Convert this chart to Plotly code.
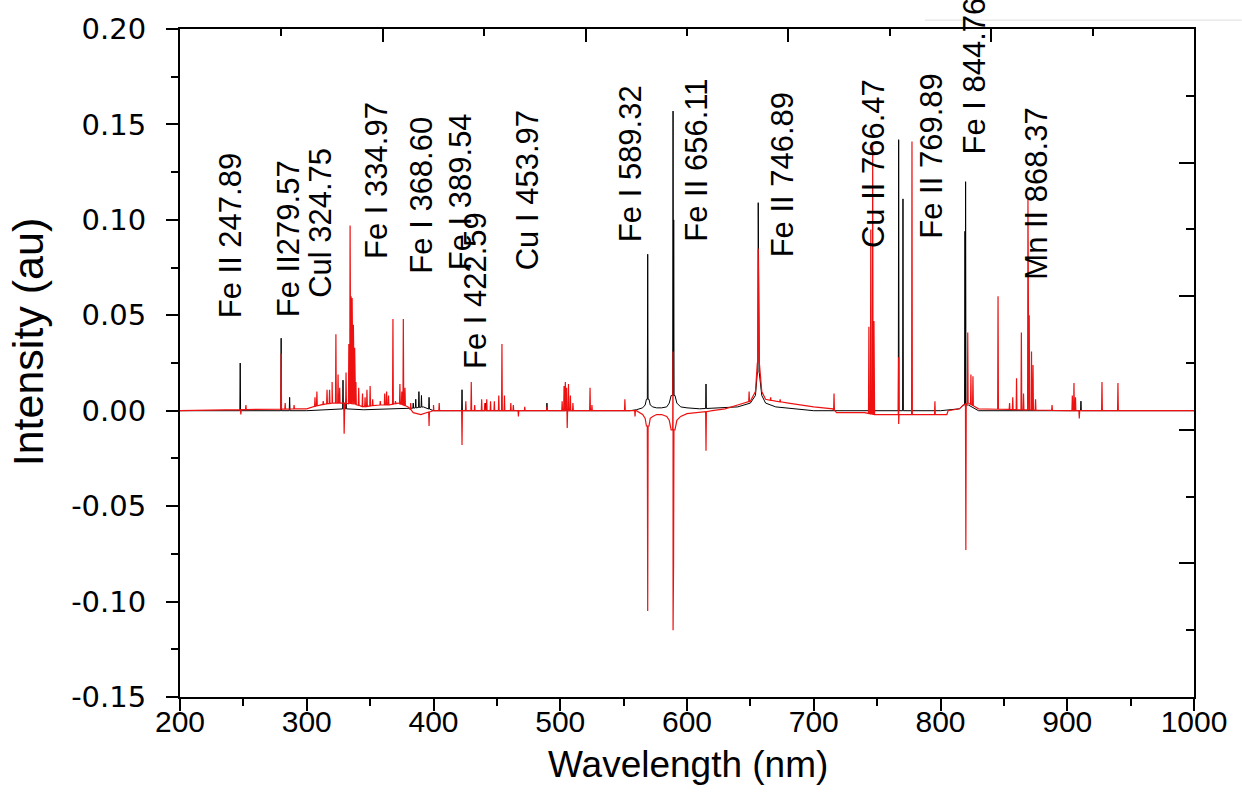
import numpy as np
import plotly.graph_objects as go

# ---------------- data ----------------
# Black spectrum: sharp emission lines (wavelength nm, intensity au)
black_peak_wl = [247.5, 279.8, 286.5, 328.6, 331.0, 384.0, 386.0, 388.5, 390.5, 396.5,
                 422.5, 441.0, 489.5, 569.0, 589.0, 589.5, 615.0, 656.2, 767.0, 770.4,
                 819.3, 819.8, 910.8]
black_peak_int = [0.025, 0.038, 0.007, 0.016, 0.006, 0.004, 0.006, 0.010, 0.008, 0.007,
                  0.011, 0.004, 0.004, 0.082, 0.157, 0.100, 0.014, 0.109, 0.142, 0.111,
                  0.094, 0.120, 0.005]
# Black spectrum: continuum / line wings
black_cont_wl = [200, 240, 300, 318, 330, 345, 380, 392, 400, 500, 555, 560, 565, 567, 568,
                 570, 571, 573, 576, 580, 584, 586, 587.5, 590.5, 592, 595, 600, 610, 640,
                 650, 654, 655.5, 657, 659, 662, 670, 700, 800, 815, 818, 822, 830, 900, 1000]
black_cont_int = [0.0, 0.0, 0.0, 0.0005, 0.001, 0.0005, 0.001, 0.002, 0.0, 0.0, 0.0, 0.0005,
                  0.0015, 0.003, 0.006, 0.006, 0.003, 0.002, 0.0015, 0.0015, 0.002, 0.004,
                  0.008, 0.008, 0.004, 0.002, 0.0015, 0.001, 0.002, 0.004, 0.008, 0.02,
                  0.02, 0.008, 0.004, 0.002, 0.0, 0.0, 0.001, 0.003, 0.003, 0.0, 0.0, 0.0]

# Red spectrum: sharp lines (positive and negative)
red_peak_wl = [248.0, 252.0, 262.0, 279.8, 283.0, 290.0, 306.5, 308.0, 313.0, 316.0,
               318.0, 320.0, 323.0, 324.7, 326.0, 329.5, 331.0, 333.2, 334.2, 335.0,
               335.8, 336.8, 337.8, 338.8, 341.0, 344.0, 346.0, 347.5, 350.0, 352.0,
               358.0, 361.5, 363.0, 364.5, 368.0, 370.0, 373.5, 375.0, 376.2, 377.5,
               382.0, 396.5, 400.0, 404.5, 422.5, 425.5, 429.8, 432.5, 438.0, 440.5,
               442.0, 445.0, 448.0, 451.5, 454.0, 456.0, 461.0, 463.0, 467.0, 472.0,
               489.5, 501.5, 503.0, 504.0, 505.0, 505.5, 506.5, 508.0, 510.0, 523.5,
               525.0, 551.0, 559.0, 569.0, 589.0, 589.0, 589.4, 615.0, 649.0, 656.2,
               656.8, 666.0, 673.5, 716.0, 743.5, 745.0, 746.5, 747.5, 767.0, 767.0,
               777.5, 795.6, 820.0, 821.5, 824.0, 825.6, 845.4, 854.5, 857.0, 860.0,
               863.8, 865.5, 869.0, 870.0, 871.8, 873.0, 875.0, 888.0, 904.0, 905.3,
               906.5, 909.5, 927.4, 940.0]
red_peak_int = [-0.002, 0.003, 0.001, 0.030, 0.004, 0.003, 0.007, 0.010, 0.005, 0.011,
                0.011, 0.015, 0.040, 0.019, 0.012, -0.012, 0.020, 0.035, 0.097, 0.060,
                0.059, 0.045, 0.033, 0.015, 0.012, 0.009, 0.007, 0.011, 0.013, 0.006,
                0.005, 0.009, 0.010, 0.008, 0.048, 0.005, 0.014, 0.010, 0.048, 0.012,
                0.004, -0.008, 0.003, 0.004, -0.018, 0.005, 0.015, 0.003, 0.006, 0.004,
                0.006, 0.005, 0.005, 0.008, 0.035, 0.008, 0.004, 0.003, -0.003, 0.002,
                0.002, 0.005, 0.013, 0.015, 0.012, -0.009, 0.014, 0.008, 0.004, 0.012,
                0.003, 0.006, -0.003, -0.105, 0.031, -0.115, -0.080, -0.021, 0.010, 0.085,
                0.060, 0.007, 0.006, 0.009, 0.044, 0.095, 0.140, 0.047, 0.028, -0.007,
                0.141, 0.005, -0.073, 0.041, 0.019, 0.018, 0.060, 0.004, 0.007, 0.017,
                0.041, 0.009, 0.112, 0.050, 0.031, 0.024, 0.006, 0.003, 0.008, 0.0145,
                0.007, -0.004, 0.015, 0.0145]
# Red spectrum: continuum / line wings
red_cont_wl = [200, 240, 300, 305, 310, 320, 330, 340, 345, 355, 365, 372, 380, 384, 390,
               395, 400, 500, 555, 560, 565, 567, 568, 570, 571, 573, 576, 580, 584, 586,
               587.5, 590.5, 592, 595, 600, 610, 620, 630, 640, 645, 650, 654, 655.5, 657,
               659, 662, 670, 680, 700, 715, 718, 740, 748, 805, 806, 815, 818, 822, 830,
               900, 1000]
red_cont_int = [0.0, 0.0005, 0.001, 0.002, 0.003, 0.004, 0.004, 0.003, 0.002, 0.003, 0.003,
                0.004, 0.002, -0.001, -0.002, -0.001, 0.0, 0.0, 0.0, 0.0, -0.002, -0.004,
                -0.008, -0.008, -0.004, -0.003, -0.002, -0.002, -0.003, -0.005, -0.010,
                -0.010, -0.005, -0.003, -0.0015, -0.001, 0.0, 0.001, 0.003, 0.004, 0.005,
                0.010, 0.025, 0.025, 0.010, 0.006, 0.005, 0.004, 0.002, 0.001, -0.001,
                -0.001, -0.002, -0.002, 0.0, 0.001, 0.003, 0.004, 0.001, 0.0, 0.0]

# Line identifications and their positions (wavelength nm, intensity au)
label_text = ["Fe II 247.89", "Fe II279.57", "Cul 324.75", "Fe I 334.97", "Fe I 368.60",
              "Fe I 389.54", "Fe I 422.59", "Cu I 453.97", "Fe I 589.32", "Fe II 656.11",
              "Fe II 746.89", "Cu II 766.47", "Fe II 769.89", "Fe I 844.76", "Mn II 868.37"]
label_x = [239.4, 285.2, 311.2, 355.4, 390.9, 420.9, 432.7, 473.8, 555.0, 607.9,
           674.9, 746.7, 793.3, 827.2, 876.1]
label_y = [0.0919, 0.0904, 0.0984, 0.1209, 0.1132, 0.1150, 0.0632, 0.1155, 0.1297, 0.1310,
           0.1238, 0.1297, 0.1331, 0.1756, 0.1137]

y_tick_vals = [-0.15, -0.10, -0.05, 0.00, 0.05, 0.10, 0.15, 0.20]
y_tick_text = ["-0.15", "-0.10", "-0.05", "0.00", "0.05", "0.10", "0.15", "0.20"]
x_tick_vals = [200, 300, 400, 500, 600, 700, 800, 900, 1000]


def build_line(peak_wl, peak_int, cont_wl, cont_int, hw=0.3):
    pts = [(w, v) for w, v in zip(cont_wl, cont_int)]
    for w, h in zip(peak_wl, peak_int):
        foot = float(np.interp(w, cont_wl, cont_int))
        pts.append((w - hw, foot))
        pts.append((w, h))
        pts.append((w + hw, foot))
    pts.sort(key=lambda p: p[0])
    return [p[0] for p in pts], [p[1] for p in pts]


bx, by = build_line(black_peak_wl, black_peak_int, black_cont_wl, black_cont_int)
rx, ry = build_line(red_peak_wl, red_peak_int, red_cont_wl, red_cont_int)

fig = go.Figure()
fig.add_trace(go.Scatter(x=bx, y=by, mode="lines", line=dict(color="#000000", width=1),
                         showlegend=False, hoverinfo="skip"))
fig.add_trace(go.Scatter(x=rx, y=ry, mode="lines", line=dict(color="#ee1111", width=1.2),
                         showlegend=False, hoverinfo="skip"))
# dummy trace for the mirror (top/right) axes
fig.add_trace(go.Scatter(x=[200, 1000], y=[0, 0], xaxis="x2", yaxis="y2", mode="markers",
                         marker=dict(opacity=0), showlegend=False, hoverinfo="skip"))

annos = []
for t, x, y in zip(label_text, label_x, label_y):
    annos.append(dict(text=t, x=x, y=y, xref="x", yref="y", showarrow=False, textangle=-90,
                      xanchor="center", yanchor="middle",
                      font=dict(family="Liberation Sans, Arial", size=31, color="black")))
annos.append(dict(text="Intensity (au)", x=-0.1499, y=0.531, xref="paper", yref="paper",
                  showarrow=False, textangle=-90, xanchor="center", yanchor="middle",
                  font=dict(family="Liberation Sans, Arial", size=43, color="black")))
annos.append(dict(text="Wavelength (nm)", x=0.501, y=-0.101, xref="paper", yref="paper",
                  showarrow=False, xanchor="center", yanchor="middle",
                  font=dict(family="Liberation Sans, Arial", size=37, color="black")))

fig.update_layout(
    width=1242, height=795, autosize=False,
    margin=dict(l=180, r=48, t=21, b=98, pad=0),
    paper_bgcolor="white", plot_bgcolor="white",
    annotations=annos,
    xaxis=dict(range=[200, 1000], tickvals=x_tick_vals, showline=True, linewidth=2,
               linecolor="black", ticks="outside", ticklen=12, tickwidth=2, tickcolor="black",
               minor=dict(dtick=50, tick0=200, ticks="outside", ticklen=7, tickwidth=2,
                          tickcolor="black"),
               showgrid=False, zeroline=False, ticklabelstandoff=-15,
               tickfont=dict(family="Liberation Sans, Arial", size=30, color="black")),
    yaxis=dict(range=[-0.15, 0.2], tickvals=y_tick_vals, ticktext=y_tick_text,
               showline=True, linewidth=2, linecolor="black", ticks="outside", ticklen=12,
               tickwidth=2, tickcolor="black",
               minor=dict(dtick=0.025, tick0=-0.15, ticks="outside", ticklen=7, tickwidth=2,
                          tickcolor="black"),
               showgrid=False, zeroline=False, ticklabelstandoff=14,
               tickfont=dict(family="DejaVu Sans", size=29, color="black")),
    xaxis2=dict(range=[200, 1000], overlaying="x", side="top", anchor="y",
                showline=True, linewidth=2, linecolor="black", ticks="inside", ticklen=13,
                tickwidth=2, tickcolor="black", tick0=200, dtick=160,
                minor=dict(dtick=80, tick0=200, ticks="inside", ticklen=7, tickwidth=2,
                           tickcolor="black"),
                showticklabels=False, showgrid=False, zeroline=False),
    yaxis2=dict(range=[-0.15, 0.2], overlaying="y", side="right", anchor="x",
                showline=True, linewidth=2, linecolor="black", ticks="inside", ticklen=15,
                tickwidth=2, tickcolor="black", tick0=-0.15, dtick=0.07,
                minor=dict(dtick=0.035, tick0=-0.15, ticks="inside", ticklen=8, tickwidth=2,
                           tickcolor="black"),
                showticklabels=False, showgrid=False, zeroline=False),
    shapes=[dict(type="line", xref="paper", yref="paper", x0=0.7347, x1=1.047,
                 y0=1.0133, y1=1.0133, line=dict(color="#dddddd", width=1))],
)

fig.write_html("out.html")
